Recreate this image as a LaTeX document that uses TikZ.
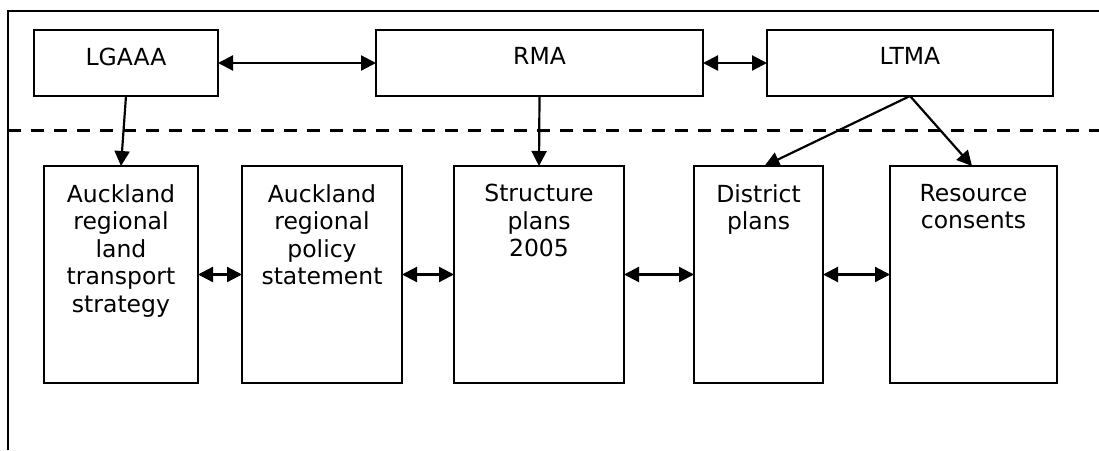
\documentclass[tikz,border=0pt]{standalone}
\usepackage{fontspec}
\setmainfont{DejaVu Sans}
\usetikzlibrary{arrows.meta,calc}

\begin{document}
\begin{tikzpicture}[x=1pt,y=-1pt,
  box/.style={draw, line width=1.6pt, inner sep=0pt, outer sep=0pt},
  caption/.style={font=\fontsize{23.5}{27.5}\selectfont, align=center, inner sep=0pt, anchor=north},
  tip/.tip={Triangle[length=15pt,width=15pt]},
  link/.style={line width=2.2pt, -tip},
  both/.style={line width=2.2pt, tip-tip}]

  \useasboundingbox (0,0) rectangle (1099,450);

  % open frame and the dashed divider
  \draw[line width=1.6pt] (8,450) -- (8,11) -- (1099,11);
  \draw[line width=3pt, dash pattern=on 13pt off 10pt] (8,130) -- (1099,130);

  % legislation row
  \node[box, minimum width=184pt, minimum height=66pt] (lgaaa) at (126,63) {};
  \node[box, minimum width=327pt, minimum height=66pt] (rma)   at (539.5,63) {};
  \node[box, minimum width=286pt, minimum height=66pt] (ltma)  at (910,63) {};
  \node[caption] (lgaaaT) at (126,47.5) {LGAAA};
  \node[caption] (rmaT)   at (539.5,47.5) {RMA};
  \node[caption] (ltmaT)  at (910,47.5) {LTMA};

  % planning instruments row
  \node[box, minimum width=154pt, minimum height=217pt] (lts) at (121,274.5) {};
  \node[box, minimum width=160pt, minimum height=217pt] (rps) at (322,274.5) {};
  \node[box, minimum width=170pt, minimum height=217pt] (sp)  at (539,274.5) {};
  \node[box, minimum width=129pt, minimum height=217pt] (dp)  at (758.5,274.5) {};
  \node[box, minimum width=167pt, minimum height=217pt] (rc)  at (973.5,274.5) {};
  \node[caption] (ltsT) at (121,184) {Auckland\\regional\\land\\transport\\strategy};
  \node[caption] (rpsT) at (322,184) {Auckland\\regional\\policy\\statement};
  \node[caption] (spT)  at (539,184) {Structure\\plans\\2005};
  \node[caption] (dpT)  at (758.5,184) {District\\plans};
  \node[caption] (rcT)  at (973.5,184) {Resource\\consents};

  % connectors
  \draw[both] (lgaaa.east) -- (rma.west);
  \draw[both] (rma.east) -- (ltma.west);
  \draw[link] (lgaaa.south) -- (lts.north);
  \draw[link] (rma.south) -- (sp.north);
  \draw[link] (ltma.south) -- ($(dp.north)+(6,0)$);
  \draw[link] (ltma.south) -- ($(rc.north)+(-1.5,0)$);
  \draw[both] (lts.east) -- (rps.west);
  \draw[both] (rps.east) -- (sp.west);
  \draw[both] (sp.east) -- (dp.west);
  \draw[both] (dp.east) -- (rc.west);
\end{tikzpicture}
\end{document}
